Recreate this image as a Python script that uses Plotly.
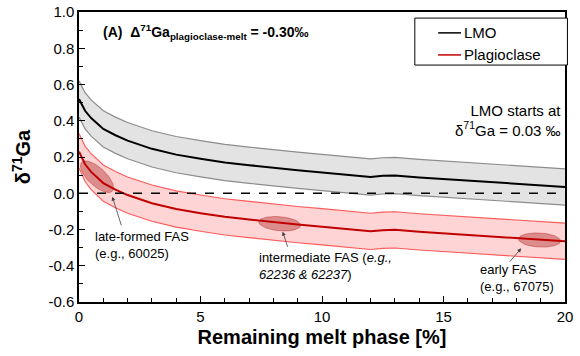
import numpy as np
import plotly.graph_objects as go

# ---- data ----
melt = [0, 0.25, 0.5, 1, 1.5, 2, 3, 4, 5, 6, 7, 8, 9, 10, 11, 12, 12.5, 13, 14, 15, 16, 17, 18, 19, 20]
lmo = [0.52, 0.455, 0.415, 0.355, 0.32, 0.29, 0.245, 0.213, 0.19, 0.17, 0.155, 0.14, 0.127, 0.115, 0.102,
       0.09, 0.096, 0.098, 0.087, 0.079, 0.071, 0.063, 0.055, 0.046, 0.035]
lmo_hi = [0.62, 0.555, 0.515, 0.455, 0.42, 0.39, 0.345, 0.313, 0.29, 0.27, 0.255, 0.24, 0.227, 0.215, 0.202,
          0.19, 0.196, 0.198, 0.187, 0.179, 0.171, 0.163, 0.155, 0.146, 0.135]
lmo_lo = [0.42, 0.355, 0.315, 0.255, 0.22, 0.19, 0.145, 0.113, 0.09, 0.07, 0.055, 0.04, 0.027, 0.015, 0.002,
          -0.01, -0.004, -0.002, -0.013, -0.021, -0.029, -0.037, -0.045, -0.054, -0.065]
plag = [0.23, 0.16, 0.118, 0.056, 0.02, -0.01, -0.055, -0.087, -0.11, -0.13, -0.145, -0.16, -0.173, -0.185,
        -0.198, -0.21, -0.204, -0.202, -0.213, -0.221, -0.229, -0.237, -0.245, -0.254, -0.265]
plag_hi = [0.33, 0.26, 0.218, 0.156, 0.12, 0.09, 0.045, 0.013, -0.01, -0.03, -0.045, -0.06, -0.073, -0.085,
           -0.098, -0.11, -0.104, -0.102, -0.113, -0.121, -0.129, -0.137, -0.145, -0.154, -0.165]
plag_lo = [0.14, 0.065, 0.02, -0.044, -0.08, -0.11, -0.155, -0.187, -0.21, -0.23, -0.245, -0.26, -0.273,
           -0.285, -0.298, -0.31, -0.304, -0.302, -0.313, -0.321, -0.329, -0.337, -0.345, -0.354, -0.365]

x_ticks = [0, 5, 10, 15, 20]
y_ticks = [-0.6, -0.4, -0.2, 0.0, 0.2, 0.4, 0.6, 0.8, 1.0]

FONT = "Liberation Sans, Arial, sans-serif"
W, H = 580, 356
ML, MR, MT, MB = 79, 15, 12, 54
XR = (0, 20)
YR = (-0.6, 1.0)
pxx = (W - ML - MR) / (XR[1] - XR[0])
pxy = (H - MT - MB) / (YR[1] - YR[0])

fig = go.Figure()

# grey band
fig.add_trace(go.Scatter(x=melt, y=lmo_hi, mode="lines", line=dict(color="#8c8c8c", width=1.2),
                         showlegend=False, hoverinfo="skip"))
fig.add_trace(go.Scatter(x=melt, y=lmo_lo, mode="lines", line=dict(color="#8c8c8c", width=1.2),
                         fill="tonexty", fillcolor="#e3e3e3", showlegend=False, hoverinfo="skip"))
# red band
fig.add_trace(go.Scatter(x=melt, y=plag_hi, mode="lines", line=dict(color="#ff5a5a", width=1.1),
                         showlegend=False, hoverinfo="skip"))
fig.add_trace(go.Scatter(x=melt, y=plag_lo, mode="lines", line=dict(color="#ff5a5a", width=1.1),
                         fill="tonexty", fillcolor="rgba(255,0,0,0.17)", showlegend=False, hoverinfo="skip"))


# ellipses (decoration) as filled polygons, sizes given in pixels
def ellipse(cx, cy, a, b, ang):
    t = np.linspace(0, 2 * np.pi, 73)
    th = np.deg2rad(ang)
    dx = a * np.cos(t) * np.cos(th) - b * np.sin(t) * np.sin(th)
    dy = a * np.cos(t) * np.sin(th) + b * np.sin(t) * np.cos(th)
    return cx + dx / pxx, cy - dy / pxy


for (cx, cy, a, b, ang) in [(0.74, 0.091, 21, 9, 43), (8.26, -0.168, 21, 7, 5), (18.95, -0.258, 21, 7, 3)]:
    ex, ey = ellipse(cx, cy, a, b, ang)
    fig.add_trace(go.Scatter(x=ex, y=ey, mode="lines", fill="toself",
                             fillcolor="rgba(175,40,40,0.42)", line=dict(color="rgba(175,40,40,0.45)", width=1),
                             showlegend=False, hoverinfo="skip"))

# main lines
fig.add_trace(go.Scatter(x=melt, y=lmo, mode="lines", name="LMO", line=dict(color="black", width=2),
                         showlegend=False))
fig.add_trace(go.Scatter(x=melt, y=plag, mode="lines", name="Plagioclase", line=dict(color="#c00000", width=2),
                         showlegend=False))

shapes = [
    dict(type="line", xref="paper", yref="y", x0=0, x1=1, y0=0, y1=0,
         line=dict(color="black", width=1.6, dash="dash")),
    # legend box
    dict(type="rect", xref="paper", yref="paper", x0=0.691, x1=1.005, y0=0.817, y1=0.979,
         line=dict(color="black", width=1), fillcolor="white"),
    dict(type="line", xref="paper", yref="paper", x0=0.739, x1=0.786, y0=0.928, y1=0.928,
         line=dict(color="black", width=1.5)),
    dict(type="line", xref="paper", yref="paper", x0=0.739, x1=0.786, y0=0.852, y1=0.852,
         line=dict(color="#c00000", width=1.5)),
]

annotations = [
    dict(xref="paper", yref="paper", x=0.788, y=0.928, text="LMO", showarrow=False, xanchor="left",
         yanchor="middle", font=dict(size=15, color="black")),
    dict(xref="paper", yref="paper", x=0.788, y=0.852, text="Plagioclase", showarrow=False, xanchor="left",
         yanchor="middle", font=dict(size=15, color="black")),
    dict(xref="paper", yref="paper", x=0.045, y=0.932, xanchor="left", yanchor="middle", showarrow=False,
         text="<b>(A)  Δ<sup>71</sup>Ga<sub>plagioclase-melt</sub> = -0.30‰</b>", font=dict(size=14)),
    dict(xref="paper", yref="paper", x=0.996, y=0.626, xanchor="right", yanchor="middle", showarrow=False,
         align="right", text="LMO starts at<br>δ<sup>71</sup>Ga = 0.03 ‰", font=dict(size=15)),
    # arrows
    dict(x=1.37, y=-0.019, ax=1.76, ay=-0.185, xref="x", yref="y", axref="x", ayref="y", text="",
         showarrow=True, arrowhead=2, arrowsize=1, arrowwidth=0.8, arrowcolor="#404040"),
    dict(x=8.38, y=-0.212, ax=8.61, ay=-0.304, xref="x", yref="y", axref="x", ayref="y", text="",
         showarrow=True, arrowhead=2, arrowsize=1, arrowwidth=0.8, arrowcolor="#404040"),
    dict(x=18.2, y=-0.304, ax=17.67, ay=-0.386, xref="x", yref="y", axref="x", ayref="y", text="",
         showarrow=True, arrowhead=2, arrowsize=1, arrowwidth=0.8, arrowcolor="#404040"),
    # labels
    dict(x=0.58, y=-0.286, xref="x", yref="y", xanchor="left", yanchor="middle", showarrow=False,
         align="left", text="late-formed FAS<br>(e.g., 60025)", font=dict(size=13)),
    dict(x=7.33, y=-0.399, xref="x", yref="y", xanchor="left", yanchor="middle", showarrow=False,
         align="left", text="intermediate FAS (<i>e.g.,</i><br><i>62236 &amp; 62237</i>)", font=dict(size=13)),
    dict(x=16.42, y=-0.468, xref="x", yref="y", xanchor="left", yanchor="middle", showarrow=False,
         align="left", text="early FAS<br>(e.g., 67075)", font=dict(size=13)),
]

fig.update_layout(
    width=W, height=H,
    margin=dict(l=ML, r=MR, t=MT, b=MB, pad=0, autoexpand=False),
    paper_bgcolor="white", plot_bgcolor="white",
    font=dict(family=FONT, color="black", size=15),
    shapes=shapes, annotations=annotations, showlegend=False,
)
fig.update_xaxes(
    range=list(XR), tickvals=x_ticks, ticktext=[str(v) for v in x_ticks], automargin=False,
    ticks="inside", ticklen=6, tickwidth=1, tickcolor="black",
    minor=dict(dtick=1, ticks="inside", ticklen=4, tickcolor="black", showgrid=False),
    showline=True, linecolor="black", linewidth=1.5, mirror=True, showgrid=False, zeroline=False,
    tickfont=dict(size=15),
    title=dict(text="<b>Remaining melt phase [%]</b>", font=dict(size=20), standoff=6),
)
fig.update_yaxes(
    range=list(YR), tickvals=y_ticks, ticktext=[f"{v:.1f}" for v in y_ticks], automargin=False,
    ticks="inside", ticklen=6, tickwidth=1, tickcolor="black",
    minor=dict(dtick=0.1, ticks="inside", ticklen=4, tickcolor="black", showgrid=False),
    showline=True, linecolor="black", linewidth=1.5, mirror=True, showgrid=False, zeroline=False,
    tickfont=dict(size=15),
    title=dict(text="<b>δ<sup>71</sup>Ga</b>", font=dict(size=20), standoff=12),
)

fig.write_html("out.html", config={"displayModeBar": False},
               post_script="document.body.style.margin='0px';")
